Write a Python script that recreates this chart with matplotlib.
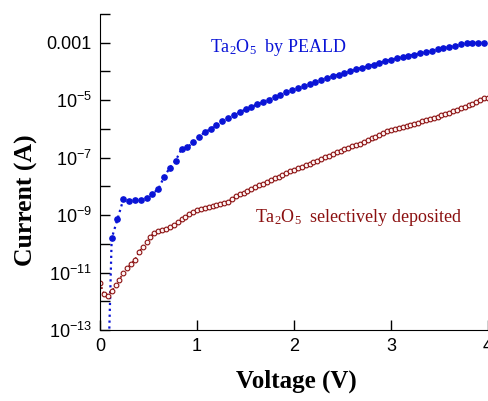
import numpy as np
import matplotlib
matplotlib.use("Agg")
import matplotlib.pyplot as plt
from matplotlib.ticker import FixedLocator, FixedFormatter

# Ta2O5 by PEALD (blue, filled)
v_peald = [0.08, 0.12, 0.18, 0.24, 0.30, 0.36, 0.42, 0.48, 0.54, 0.60, 0.66,
           0.72, 0.78, 0.84, 0.90, 0.96, 1.02, 1.08, 1.14, 1.20, 1.26,
           1.32, 1.38, 1.44, 1.50, 1.56, 1.62, 1.68, 1.74, 1.80, 1.86,
           1.92, 1.98, 2.04, 2.10, 2.16, 2.22, 2.28, 2.34, 2.40, 2.46,
           2.52, 2.58, 2.64, 2.70, 2.76, 2.82, 2.88, 2.94, 3.00, 3.06,
           3.12, 3.18, 3.24, 3.30, 3.36, 3.42, 3.48, 3.54, 3.60, 3.66,
           3.72, 3.78, 3.84, 3.90, 3.96]
logi_peald = [-15.0, -9.81, -9.14, -8.45, -8.50, -8.48, -8.46, -8.39, -8.25, -8.10, -7.67,
              -7.35, -7.10, -6.70, -6.64, -6.47, -6.27, -6.12, -6.00, -5.87, -5.74,
              -5.63, -5.52, -5.42, -5.32, -5.24, -5.14, -5.06, -4.98, -4.89, -4.81,
              -4.72, -4.64, -4.57, -4.50, -4.42, -4.35, -4.28, -4.22, -4.16, -4.11,
              -4.06, -4.00, -3.93, -3.87, -3.82, -3.76, -3.70, -3.64, -3.59, -3.54,
              -3.49, -3.45, -3.41, -3.37, -3.32, -3.28, -3.23, -3.18, -3.14, -3.10,
              -3.06, -3.01, -3.00, -3.00, -3.00]

# Ta2O5 selectively deposited (dark red, open)
v_sel = [0.00, 0.04, 0.08, 0.12, 0.16, 0.20, 0.24, 0.28, 0.32, 0.36,
         0.40, 0.44, 0.48, 0.52, 0.56, 0.60, 0.64, 0.68, 0.72, 0.76,
         0.80, 0.84, 0.88, 0.92, 0.96, 1.00, 1.04, 1.08, 1.12, 1.16,
         1.20, 1.24, 1.28, 1.32, 1.36, 1.40, 1.44, 1.48, 1.52, 1.56,
         1.60, 1.64, 1.68, 1.72, 1.76, 1.80, 1.84, 1.88, 1.92, 1.96,
         2.00, 2.04, 2.08, 2.12, 2.16, 2.20, 2.24, 2.28, 2.32, 2.36,
         2.40, 2.44, 2.48, 2.52, 2.56, 2.60, 2.64, 2.68, 2.72, 2.76,
         2.80, 2.84, 2.88, 2.92, 2.96, 3.00, 3.04, 3.08, 3.12, 3.16,
         3.20, 3.24, 3.28, 3.32, 3.36, 3.40, 3.44, 3.48, 3.52, 3.56,
         3.60, 3.64, 3.68, 3.72, 3.76, 3.80, 3.84, 3.88, 3.92, 3.96, 4.00]
logi_sel = [-11.35, -11.75, -11.80, -11.65, -11.45, -11.25, -11.00, -10.85, -10.70, -10.55,
            -10.30, -10.10, -9.95, -9.75, -9.62, -9.57, -9.52, -9.47, -9.40, -9.33,
            -9.25, -9.15, -9.05, -8.96, -8.88, -8.83, -8.79, -8.76, -8.72, -8.69,
            -8.66, -8.62, -8.58, -8.53, -8.45, -8.35, -8.28, -8.22, -8.15, -8.09,
            -8.02, -7.96, -7.90, -7.84, -7.78, -7.72, -7.66, -7.60, -7.54, -7.48,
            -7.42, -7.37, -7.31, -7.26, -7.21, -7.16, -7.10, -7.05, -6.99, -6.93,
            -6.87, -6.81, -6.76, -6.71, -6.66, -6.61, -6.56, -6.51, -6.45, -6.39,
            -6.33, -6.27, -6.20, -6.13, -6.08, -6.04, -6.01, -5.98, -5.94, -5.90,
            -5.86, -5.82, -5.78, -5.74, -5.70, -5.66, -5.61, -5.57, -5.53, -5.48,
            -5.43, -5.38, -5.33, -5.28, -5.23, -5.18, -5.12, -5.06, -4.98, -4.93, -4.91]

ytick_exp = [-13, -12, -11, -10, -9, -8, -7, -6, -5, -4, -3, -2]
ytick_labels = {-3: "0.001", -5: "10^{-5}", -7: "10^{-7}", -9: "10^{-9}",
                -11: "10^{-11}", -13: "10^{-13}"}
xticks = [0, 1, 2, 3, 4]

blue = "#0a14d6"
red = "#8b1010"

fig = plt.figure(figsize=(4.88, 4.01), dpi=100)
ax = fig.add_axes([0.205, 0.177, 0.795, 0.788])

ax.plot(v_peald, 10.0 ** np.array(logi_peald), linestyle=":", color=blue, lw=1.6,
        marker="o", ms=3.8, mfc=blue, mec=blue)
ax.plot(v_sel, 10.0 ** np.array(logi_sel), linestyle=":", color=red, lw=1.3,
        marker="o", ms=3.4, mfc="#fff4f4", mec=red, mew=0.8)

ax.set_yscale("log")
ax.set_xlim(0, 4)
ax.set_ylim(1e-13, 1e-2)

ax.yaxis.set_major_locator(FixedLocator([10.0 ** e for e in ytick_exp]))
ax.yaxis.set_minor_locator(FixedLocator([]))
labels = []
for e in ytick_exp:
    s = ytick_labels.get(e, "")
    if s.startswith("10"):
        s = "$\\mathregular{" + s + "}$"
    labels.append(s)
ax.yaxis.set_major_formatter(FixedFormatter(labels))
ax.set_xticks(xticks)
ax.set_xticklabels([str(x) for x in xticks])

ax.tick_params(direction="in", length=7, width=1, labelsize=13, pad=6)
for lab in ax.get_xticklabels() + ax.get_yticklabels():
    lab.set_family("Liberation Sans")

ax.spines["top"].set_visible(False)
ax.spines["right"].set_visible(False)

ax.set_xlabel("Voltage (V)", fontsize=18, fontweight="bold", family="Liberation Serif")
ax.set_ylabel("Current (A)", fontsize=18.5, fontweight="bold", family="Liberation Serif")
ax.xaxis.set_label_coords(0.505, -0.125)
ax.yaxis.set_label_coords(-0.16, 0.41)

ax.text(1.13, 10.0 ** -3.15, "$\\mathregular{Ta_2O_5}$  by PEALD", color=blue,
        fontsize=13, family="Liberation Serif", va="center")
ax.text(1.6, 10.0 ** -9.1, "$\\mathregular{Ta_2O_5}$  selectively deposited", color=red,
        fontsize=13, family="Liberation Serif", va="center")

plt.savefig("out.png", dpi=100)
